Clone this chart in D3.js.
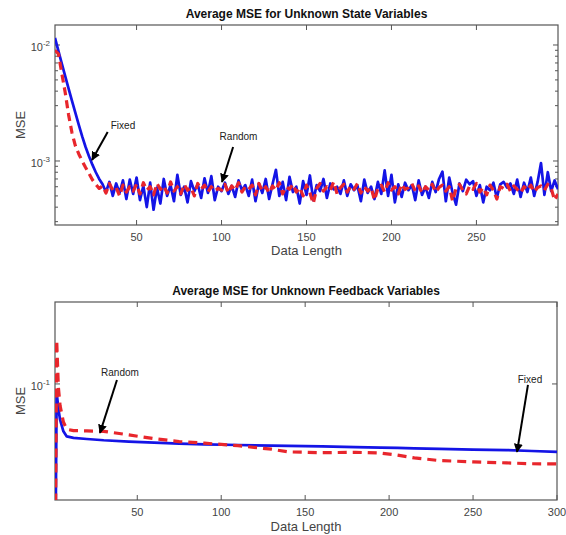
<!DOCTYPE html>
<html>
<head>
<meta charset="utf-8">
<script src="https://cdn.jsdelivr.net/npm/d3@7"></script>
<style>
  body { margin: 0; background: #fff; }
  svg { font-family: "Liberation Sans", Arial, sans-serif; }
</style>
</head>
<body>
<div id="chart"></div>
<script>
// ---- top panel: unknown state variables (MSE given in units of 1e-4) ----
const stateLen = d3.range(2, 299, 2);
const stateFixed = [
  115, 89, 69, 54, 42, 33, 26, 20.5, 16.3, 13.2, 11, 9.3, 8.0, 7.0,
  6.3, 5.4, 6.6, 5.0, 6.4, 5.3, 6.8, 4.7, 6.9, 5.2,
  7.2, 4.6, 6.1, 4.0, 6.5, 3.8, 5.9, 4.3, 7.0, 5.0,
  6.2, 4.5, 7.6, 5.1, 6.0, 4.4, 6.7, 5.5, 6.3, 4.8,
  7.1, 5.3, 7.4, 4.6, 6.0, 5.5, 6.5, 5.2, 6.1, 4.9,
  6.8, 5.6, 6.2, 5.0, 6.9, 4.5, 6.4, 5.3, 7.0, 4.7,
  6.3, 8.4, 5.0, 6.6, 4.6, 7.3, 5.4, 6.0, 4.3, 6.7,
  5.1, 7.5, 4.6, 6.2, 5.5, 7.0, 4.8, 6.4, 5.7, 6.0,
  5.2, 6.8, 5.0, 6.3, 5.6, 6.1, 4.5, 6.9, 5.3, 6.0,
  4.7, 6.6, 5.2, 8.3, 5.0, 7.6, 4.4, 6.3, 4.9, 6.5,
  5.6, 6.2, 4.6, 6.8, 5.1, 6.0, 4.8, 6.6, 5.4, 7.0,
  8.1, 4.5, 7.2, 5.3, 4.2, 6.4, 5.5, 6.9, 6.3, 6.7,
  5.0, 6.2, 4.4, 6.0, 5.6, 6.5, 4.8, 6.3, 6.6, 5.9,
  6.4, 5.2, 6.9, 4.9, 6.5, 5.4, 7.2, 5.0, 6.6, 9.6,
  5.1, 8.0, 5.5, 6.8, 5.7
];
const stateRandom = [
  90, 84, 57, 39, 25, 17.5, 13.5, 11.5, 10, 8.8, 7.8, 6.9, 6.3, 5.8,
  6.1, 5.3, 6.4, 5.6, 5.9, 5.0, 6.2, 5.4, 6.0, 5.5,
  6.3, 5.2, 6.5, 5.6, 6.0, 5.1, 6.4, 5.7, 6.1, 5.3,
  6.6, 5.5, 6.0, 5.2, 6.3, 5.6, 5.9, 5.0, 6.4, 5.7,
  6.2, 5.4, 6.0, 5.5, 5.8, 5.6, 6.3, 5.3, 6.1, 5.6,
  6.5, 5.4, 6.0, 5.7, 6.2, 5.1, 6.4, 5.5, 6.0, 5.3,
  6.1, 5.6, 6.5, 5.2, 6.0, 5.7, 6.3, 5.4, 5.9, 5.0,
  6.2, 5.3, 4.3, 5.8, 6.4, 5.5, 6.0, 5.6, 6.6, 5.2,
  5.9, 6.3, 5.4, 6.1, 5.7, 6.4, 5.3, 6.0, 5.5, 5.9,
  4.6, 5.8, 6.2, 5.4, 6.5, 5.6, 6.0, 5.2, 6.3, 5.7,
  5.9, 6.4, 5.5, 6.1, 5.3, 6.0, 5.6, 6.3, 5.4, 5.9,
  6.2, 5.5, 6.0, 4.5, 5.8, 6.3, 5.6, 5.2, 6.1, 5.7,
  6.4, 5.4, 5.9, 5.1, 6.2, 5.6, 4.7, 6.0, 5.8, 6.3,
  5.5, 6.1, 5.7, 5.3, 6.0, 5.6, 6.2, 5.4, 5.9, 6.1,
  5.6, 6.3, 5.8, 4.6, 5.2
];
const stateTicks = [50, 100, 150, 200, 250];

// ---- bottom panel: unknown feedback variables ----
const feedbackLen = [1, 2, 3, 4, 6, 8, 12, 20, 30, 45, 60, 75, 90, 110, 130, 140, 160, 180, 195, 205, 215, 230, 250, 270, 285, 300];
const feedbackFixed = [0.005, 0.089, 0.072, 0.062, 0.053, 0.0495, 0.0485, 0.0478, 0.047, 0.0462, 0.0455, 0.0449, 0.0445,
  0.0441, 0.0437, 0.0436, 0.0433, 0.0429, 0.0426, 0.0424, 0.0422, 0.0419, 0.0415, 0.0412, 0.0407, 0.0402];
const feedbackRandom = [0.005, 0.18, 0.096, 0.075, 0.06, 0.0545, 0.0535, 0.0533, 0.053, 0.0505, 0.048, 0.0462, 0.0452,
  0.0437, 0.0417, 0.0402, 0.0398, 0.04, 0.0396, 0.0385, 0.0371, 0.0358, 0.0352, 0.0347, 0.0343, 0.0342];
const feedbackTicks = [50, 100, 150, 200, 250, 300];

// annotations: label position, arrow tail, arrow tip (data coords)
const stateNotes = [
  { text: "Fixed", at: [42, 2.0e-3], from: [33, 1.78e-3], to: [23.8, 1.02e-3] },
  { text: "Random", at: [110, 1.61e-3], from: [106.8, 1.32e-3], to: [100.3, 6.6e-4] }
];
const feedbackNotes = [
  { text: "Random", at: [39.7, 0.116], from: [37.9, 0.1054], to: [27.8, 0.0519] },
  { text: "Fixed", at: [283.9, 0.1054], from: [282.7, 0.0987], to: [276.2, 0.0402] }
];

const blue = "#1414e6", red = "#e8262c";

const svg = d3.select("#chart").append("svg")
  .attr("width", 566)
  .attr("height", 535);

svg.append("defs").append("marker")
  .attr("id", "head")
  .attr("viewBox", "0 0 10 10")
  .attr("refX", 9).attr("refY", 5)
  .attr("markerWidth", 4.5).attr("markerHeight", 4.5)
  .attr("orient", "auto")
  .append("path")
  .attr("d", "M0,0L10,5L0,10z")
  .attr("fill", "#000");

function drawPanel(p, id) {
  let x = d3.scaleLinear().domain(p.xDomain).range([p.left, p.right]);
  let y = d3.scaleLog().domain(p.yDomain).range([p.bottom, p.top]);
  let g = svg.append("g");

  g.append("clipPath").attr("id", "clip" + id)
    .append("rect")
    .attr("x", p.left).attr("y", p.top)
    .attr("width", p.right - p.left).attr("height", p.bottom - p.top);

  // box
  g.append("rect")
    .attr("x", p.left).attr("y", p.top)
    .attr("width", p.right - p.left).attr("height", p.bottom - p.top)
    .attr("fill", "none").attr("stroke", "#555").attr("stroke-width", 1.2);

  // x ticks, inward on top and bottom
  p.xTicks.forEach(t => {
    g.append("line").attr("x1", x(t)).attr("x2", x(t)).attr("y1", p.bottom).attr("y2", p.bottom - 5)
      .attr("stroke", "#555");
    g.append("line").attr("x1", x(t)).attr("x2", x(t)).attr("y1", p.top).attr("y2", p.top + 5)
      .attr("stroke", "#555");
    g.append("text").attr("x", x(t)).attr("y", p.bottom + 16)
      .attr("text-anchor", "middle").attr("font-size", 11).attr("fill", "#444")
      .text(t);
  });

  // y ticks (log)
  p.yMinor.forEach(t => {
    [p.left, p.right].forEach((ex, i) => {
      g.append("line").attr("x1", ex).attr("x2", i ? ex - 3 : ex + 3)
        .attr("y1", y(t)).attr("y2", y(t)).attr("stroke", "#555");
    });
  });
  p.yMajor.forEach(t => {
    [p.left, p.right].forEach((ex, i) => {
      g.append("line").attr("x1", ex).attr("x2", i ? ex - 5 : ex + 5)
        .attr("y1", y(t)).attr("y2", y(t)).attr("stroke", "#555");
    });
    let lbl = g.append("text").attr("x", p.left - 5).attr("y", y(t) + 6)
      .attr("text-anchor", "end").attr("fill", "#444").attr("font-size", 11);
    lbl.append("tspan").text("10");
    lbl.append("tspan").attr("dy", -5).attr("font-size", 8).text(Math.round(Math.log10(t)));
  });

  // title and axis labels
  g.append("text").attr("x", (p.left + p.right) / 2).attr("y", p.top - 7)
    .attr("text-anchor", "middle").attr("font-size", 12).attr("font-weight", "bold")
    .attr("fill", "#111").text(p.title);
  g.append("text").attr("x", (p.left + p.right) / 2).attr("y", p.xLabelY)
    .attr("text-anchor", "middle").attr("font-size", 13).attr("fill", "#444")
    .text("Data Length");
  g.append("text").attr("transform", "translate(25," + (p.top + p.bottom) / 2 + ")rotate(-90)")
    .attr("text-anchor", "middle").attr("font-size", 13).attr("fill", "#444")
    .text("MSE");

  // series
  let line = d3.line().x(d => x(d[0])).y(d => y(d[1]));
  let lines = g.append("g").attr("clip-path", "url(#clip" + id + ")");
  p.series.forEach(s => {
    lines.append("path")
      .datum(p.xs.map((v, i) => [v, s.values[i] * p.unit]))
      .attr("d", line)
      .attr("fill", "none")
      .attr("stroke", s.color)
      .attr("stroke-width", s.width)
      .attr("stroke-dasharray", s.dash)
      .attr("stroke-linejoin", "round");
  });

  // annotations
  p.notes.forEach(n => {
    g.append("text").attr("x", x(n.at[0])).attr("y", y(n.at[1]) + 3)
      .attr("text-anchor", "middle").attr("font-size", 10).attr("fill", "#222")
      .text(n.text);
    g.append("line")
      .attr("x1", x(n.from[0])).attr("y1", y(n.from[1]))
      .attr("x2", x(n.to[0])).attr("y2", y(n.to[1]))
      .attr("stroke", "#000").attr("stroke-width", 2)
      .attr("marker-end", "url(#head)");
  });
}

const minorState = [3e-4, 4e-4, 5e-4, 6e-4, 7e-4, 8e-4, 9e-4, 2e-3, 3e-3, 4e-3, 5e-3, 6e-3, 7e-3, 8e-3, 9e-3];

drawPanel({
  title: "Average MSE for Unknown State Variables",
  left: 55, right: 558, top: 25, bottom: 225, xLabelY: 255,
  xDomain: [2, 298], yDomain: [2.807e-4, 0.01487],
  xTicks: stateTicks, yMajor: [1e-3, 1e-2], yMinor: minorState,
  xs: stateLen, unit: 1e-4,
  series: [
    { values: stateFixed, color: blue, width: 2.7, dash: null },
    { values: stateRandom, color: red, width: 3.2, dash: "8,5" }
  ],
  notes: stateNotes
}, 1);

drawPanel({
  title: "Average MSE for Unknown Feedback Variables",
  left: 55, right: 557, top: 302, bottom: 500, xLabelY: 531,
  xDomain: [1, 300], yDomain: [0.0211, 0.3],
  xTicks: feedbackTicks, yMajor: [0.1], yMinor: [],
  xs: feedbackLen, unit: 1,
  series: [
    { values: feedbackFixed, color: blue, width: 2.7, dash: null },
    { values: feedbackRandom, color: red, width: 3.2, dash: "9,6" }
  ],
  notes: feedbackNotes
}, 2);
</script>
</body>
</html>
